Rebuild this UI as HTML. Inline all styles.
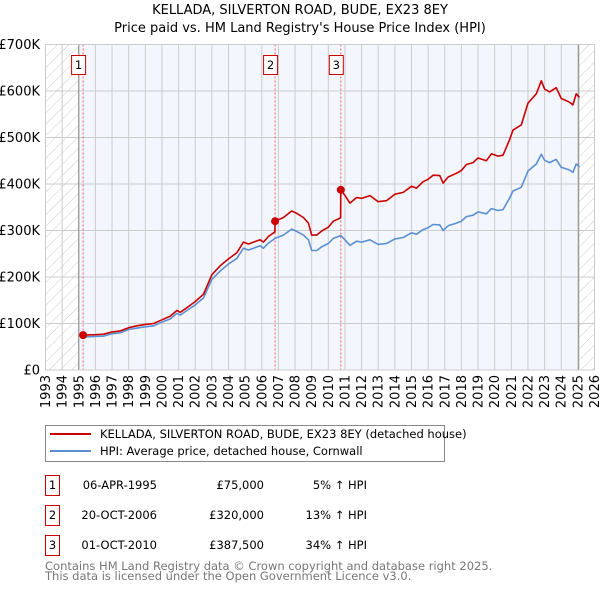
<!DOCTYPE html>
<html><head><meta charset="utf-8"><style>
body{margin:0;background:#fff;font-family:"DejaVu Sans","Liberation Sans",sans-serif;}
svg text{font-family:"DejaVu Sans","Liberation Sans",sans-serif;}
</style></head><body>
<svg id="c" width="600" height="590" xmlns="http://www.w3.org/2000/svg">
<defs><pattern id="hatch" width="8" height="8" patternUnits="userSpaceOnUse" patternTransform="rotate(45)"><line x1="0" y1="0" x2="0" y2="8" stroke="#ccc" stroke-width="1"/></pattern></defs>
<text x="300" y="14" text-anchor="middle" font-size="13">KELLADA, SILVERTON ROAD, BUDE, EX23 8EY</text>
<text x="300" y="32" text-anchor="middle" font-size="13">Price paid vs. HM Land Registry's House Price Index (HPI)</text>
<g id="plot"></g>
<g>
<rect x="45.5" y="425.5" width="399" height="36" fill="#fff" stroke="#888"/>
<line x1="50" y1="434" x2="91" y2="434" stroke="#cc0000" stroke-width="2"/>
<text x="100" y="438" font-size="11.5">KELLADA, SILVERTON ROAD, BUDE, EX23 8EY (detached house)</text>
<line x1="50" y1="451" x2="91" y2="451" stroke="#5b8fd4" stroke-width="2"/>
<text x="100" y="455" font-size="11.5">HPI: Average price, detached house, Cornwall</text>
</g>
<g font-size="11.5">
<rect x="45.5" y="475.5" width="14" height="20" fill="#fff" stroke="#cc0000"/><text x="52.5" y="489" text-anchor="middle">1</text>
<text x="157" y="489" text-anchor="end">06-APR-1995</text><text x="264" y="489" text-anchor="end">£75,000</text><text x="367" y="489" text-anchor="end">5% ↑ HPI</text>
<rect x="45.5" y="505.5" width="14" height="20" fill="#fff" stroke="#cc0000"/><text x="52.5" y="519" text-anchor="middle">2</text>
<text x="157" y="519" text-anchor="end">20-OCT-2006</text><text x="264" y="519" text-anchor="end">£320,000</text><text x="367" y="519" text-anchor="end">13% ↑ HPI</text>
<rect x="45.5" y="535.5" width="14" height="20" fill="#fff" stroke="#cc0000"/><text x="52.5" y="549" text-anchor="middle">3</text>
<text x="157" y="549" text-anchor="end">01-OCT-2010</text><text x="264" y="549" text-anchor="end">£387,500</text><text x="367" y="549" text-anchor="end">34% ↑ HPI</text>
</g>
<text x="45" y="570" font-size="11.5" fill="#777">Contains HM Land Registry data © Crown copyright and database right 2025.</text>
<text x="45" y="580" font-size="11.5" fill="#777">This data is licensed under the Open Government Licence v3.0.</text>
</svg>
<script>
const hpiDates=[1995.26,1996,1996.5,1997,1997.5,1998,1998.5,1999,1999.5,2000,2000.5,2000.9,2001.1,2001.5,2002,2002.5,2003,2003.5,2004,2004.5,2004.9,2005.2,2005.5,2005.9,2006.1,2006.4,2006.8,2007.3,2007.8,2008.1,2008.5,2008.8,2009,2009.3,2009.6,2010,2010.3,2010.75,2011,2011.3,2011.7,2012,2012.5,2013,2013.5,2014,2014.5,2015,2015.3,2015.7,2016,2016.3,2016.7,2016.9,2017.2,2017.7,2018,2018.3,2018.7,2019,2019.5,2019.8,2020.2,2020.5,2020.9,2021.1,2021.6,2022,2022.5,2022.8,2023,2023.3,2023.7,2024,2024.5,2024.7,2024.9,2025.1];
const hpiValues=[71,72,73,78,80,87,90,93,95,103,110,122,118,128,140,155,195,213,228,240,262,258,262,267,262,273,283,290,303,298,290,280,257,257,265,272,283,289,280,268,277,275,280,270,272,282,285,295,292,302,306,313,312,300,310,316,320,330,333,340,336,347,343,345,370,385,393,428,443,464,451,446,453,436,430,425,443,437];
const propDates=[1995.26,1996,1996.5,1997,1997.5,1998,1998.5,1999,1999.5,2000,2000.5,2000.9,2001.1,2001.5,2002,2002.5,2003,2003.5,2004,2004.5,2004.9,2005.2,2005.5,2005.9,2006.1,2006.4,2006.79,2006.8,2007.3,2007.8,2008.1,2008.5,2008.8,2009,2009.3,2009.6,2010,2010.3,2010.74,2010.75,2011,2011.3,2011.7,2012,2012.5,2013,2013.5,2014,2014.5,2015,2015.3,2015.7,2016,2016.3,2016.7,2016.9,2017.2,2017.7,2018,2018.3,2018.7,2019,2019.5,2019.8,2020.2,2020.5,2020.9,2021.1,2021.6,2022,2022.5,2022.8,2023,2023.3,2023.7,2024,2024.5,2024.7,2024.9,2025.1];
const propValues=[75,76,77,82,84,91,95,98,100,108,116,128,124,134,147,163,205,224,239,252,275,271,275,280,275,287,297,320,328,342,337,328,316,290,290,299,307,320,327,387.5,375,359,371,369,375,362,364,378,382,395,391,405,410,419,418,402,415,423,429,442,446,456,450,465,460,462,496,516,527,574,594,622,604,598,607,584,576,570,594,586];
const saleLabels=["1","2","3"];
const saleDates=[1995.26,2006.8,2010.75];
const salePrices=[75,320,387.5];
const yTicks=[0,100,200,300,400,500,600,700];
const yTickLabels=["£0","£100K","£200K","£300K","£400K","£500K","£600K","£700K"];
const xYears=[1993,1994,1995,1996,1997,1998,1999,2000,2001,2002,2003,2004,2005,2006,2007,2008,2009,2010,2011,2012,2013,2014,2015,2016,2017,2018,2019,2020,2021,2022,2023,2024,2025,2026];

const L=45.5,R=594.5,T=44.5,B=370;
const xs=v=>L+(v-1993)/(2026-1993)*(R-L);
const ys=v=>B-v/700*(B-T);
const NS="http://www.w3.org/2000/svg";
const g=document.getElementById('plot');
function mk(tag,attrs,parent){const e=document.createElementNS(NS,tag);for(const k in attrs)e.setAttribute(k,attrs[k]);(parent||g).appendChild(e);return e;}

let e;
e=mk('rect',{x:L,y:T,width:R-L,height:B-T,fill:'#fff'});


e=mk('rect',{x:xs(1995.0),y:T,width:xs(2025.05)-xs(1995.0),height:B-T,fill:'#f3f6fd'});


e=mk('rect',{x:L,y:T,width:xs(1995.0)-L,height:B-T,fill:'url(#hatch)'});


e=mk('rect',{x:xs(2025.05),y:T,width:R-xs(2025.05),height:B-T,fill:'url(#hatch)'});



xYears.forEach(y=>{
  e=mk('line',{x1:xs(y),x2:xs(y),y1:T,y2:B,stroke:'#ccc','stroke-width':1});
  
  
  e=mk('text',{x:0,y:0,'font-size':13,'text-anchor':'end',transform:`translate(${xs(y)+4.5},375) rotate(-90)`});
  e.textContent=y;
  
  
});
yTicks.forEach((v,i)=>{
  e=mk('line',{x1:L,x2:R,y1:ys(v),y2:ys(v),stroke:'#ccc','stroke-width':1});
  
  
  e=mk('text',{x:40,y:ys(v)+4.5,'font-size':13,'text-anchor':'end'});
  e.textContent=yTickLabels[i];
  
  
});
e=mk('line',{x1:xs(1995.0),x2:xs(1995.0),y1:T,y2:B,stroke:'#888','stroke-width':1});


e=mk('line',{x1:xs(2025.05),x2:xs(2025.05),y1:T,y2:B,stroke:'#888','stroke-width':1});



saleDates.forEach((d,i)=>{
  e=mk('line',{x1:xs(d),x2:xs(d),y1:T,y2:B,stroke:'#f06060','stroke-width':1,'stroke-dasharray':'2,2'});
  
  
});

function path(dates,vals){return dates.map((d,i)=>(i?'L':'M')+xs(d).toFixed(1)+','+ys(vals[i]).toFixed(1)).join(' ');}
e=mk('path',{d:path(hpiDates,hpiValues),fill:'none',stroke:'#5b8fd4','stroke-width':1.6,'stroke-linejoin':'round'});


e=mk('path',{d:path(propDates,propValues),fill:'none',stroke:'#cc0000','stroke-width':1.6,'stroke-linejoin':'round'});



saleDates.forEach((d,i)=>{
  e=mk('circle',{cx:xs(d),cy:ys(salePrices[i]),r:4,fill:'#cc0000'});
  
  
  e=mk('rect',{x:xs(d)-11.5,y:55.5,width:14,height:19,fill:'#fff',stroke:'#cc0000'});
  
  
  e=mk('text',{x:xs(d)-4.5,y:69,'font-size':11.5,'text-anchor':'middle'});
  e.textContent=saleLabels[i];
  
  
});
e=mk('rect',{x:L,y:T,width:R-L,height:B-T,fill:'none',stroke:'#ccc'});


</script>
</body></html>
